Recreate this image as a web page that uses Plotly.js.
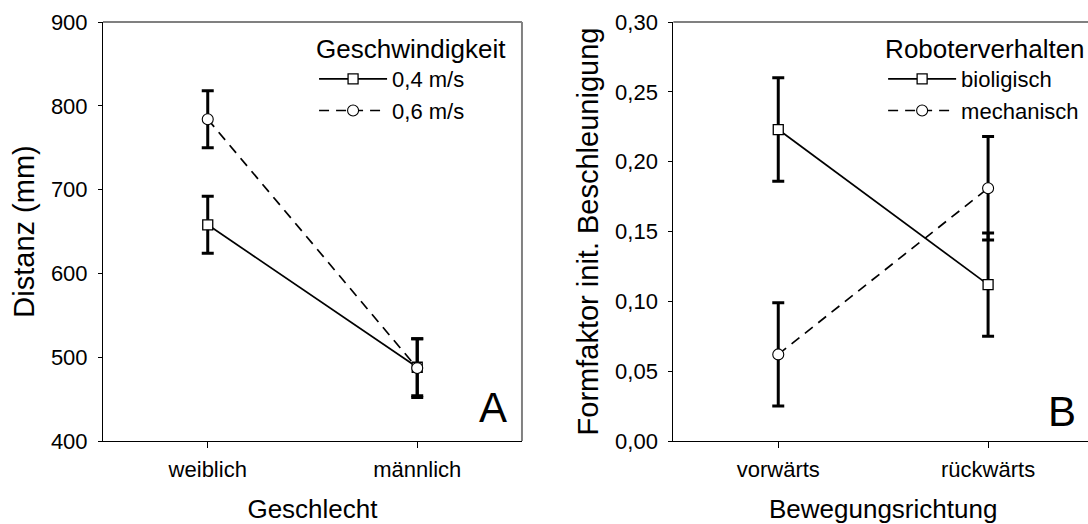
<!DOCTYPE html>
<html>
<head>
<meta charset="utf-8">
<script src="https://cdn.plot.ly/plotly-3.0.1.min.js"></script>
<style>
html, body { margin: 0; padding: 0; overflow: hidden; background: #fff; }
#chart { width: 1100px; height: 524px; }
</style>
</head>
<body>
<div id="chart"></div>
<script>
// Panel A data
const geschlecht = ['weiblich', 'männlich'];
const dist04 = [658, 488];
const dist04Err = [34, 34];
const dist06 = [784, 487];
const dist06Err = [34, 35];

// Panel B data
const richtung = ['vorwärts', 'rückwärts'];
const biologisch = [0.223, 0.112];
const biologischErr = [0.037, 0.037];
const mechanisch = [0.062, 0.181];
const mechanischErr = [0.037, 0.037];

const yTicksA = [400, 500, 600, 700, 800, 900];
const yTicksB = [0, 0.05, 0.10, 0.15, 0.20, 0.25, 0.30];

const FONT = 'Liberation Sans, Arial, sans-serif';
const err = (arr) => ({type: 'data', array: arr, visible: true, color: '#000', thickness: 3, width: 6});
const sq = {symbol: 'square', size: 10, color: '#fff', line: {color: '#000', width: 1.3}};
const ci = {symbol: 'circle', size: 11, color: '#fff', line: {color: '#000', width: 1.1}};

const traces = [
  {x: geschlecht, y: dist04, error_y: err(dist04Err), type: 'scatter', mode: 'lines+markers',
   name: '0,4 m/s', line: {color: '#000', width: 1.7}, marker: sq, xaxis: 'x', yaxis: 'y', legend: 'legend'},
  {x: geschlecht, y: dist06, error_y: err(dist06Err), type: 'scatter', mode: 'lines+markers',
   name: '0,6 m/s', line: {color: '#000', width: 1.7, dash: '10px,7px'}, marker: ci, xaxis: 'x', yaxis: 'y', legend: 'legend'},
  {x: richtung, y: biologisch, error_y: err(biologischErr), type: 'scatter', mode: 'lines+markers',
   name: 'bioligisch', line: {color: '#000', width: 1.7}, marker: sq, xaxis: 'x2', yaxis: 'y2', legend: 'legend2'},
  {x: richtung, y: mechanisch, error_y: err(mechanischErr), type: 'scatter', mode: 'lines+markers',
   name: 'mechanisch', line: {color: '#000', width: 1.7, dash: '10px,7px'}, marker: ci, xaxis: 'x2', yaxis: 'y2', legend: 'legend2'}
];

const xCommon = {
  type: 'category', range: [-0.5, 1.5], showline: true, linecolor: '#000', linewidth: 1,
  ticks: 'outside', ticklen: 6, tickcolor: '#000', showgrid: false, zeroline: false,
  tickfont: {family: FONT, size: 22, color: '#000'}, ticklabelstandoff: 3, fixedrange: true
};
const yCommon = {
  showline: true, linecolor: '#000', linewidth: 1, ticks: 'outside', ticklen: 4, tickcolor: '#000',
  showgrid: false, zeroline: false, tickfont: {family: FONT, size: 22, color: '#000'},
  ticklabelstandoff: 6, fixedrange: true
};

const layout = {
  width: 1100, height: 524,
  margin: {l: 103, r: 7, t: 22, b: 83},
  paper_bgcolor: '#fff', plot_bgcolor: '#fff',
  separators: ',.',
  font: {family: FONT, color: '#000'},
  showlegend: true,
  xaxis: Object.assign({}, xCommon, {domain: [0, 0.4232], anchor: 'y',
    title: {text: 'Geschlecht', font: {family: FONT, size: 26, color: '#000'}, standoff: 18}}),
  yaxis: Object.assign({}, yCommon, {domain: [0, 1], anchor: 'x', range: [400, 900], tickvals: yTicksA,
    title: {text: 'Distanz (mm)', font: {family: FONT, size: 29, color: '#000'}, standoff: 7}}),
  xaxis2: Object.assign({}, xCommon, {domain: [0.5761, 1], anchor: 'y2',
    title: {text: 'Bewegungsrichtung', font: {family: FONT, size: 26, color: '#000'}, standoff: 18}}),
  yaxis2: Object.assign({}, yCommon, {domain: [0, 1], anchor: 'x2', range: [0, 0.30], tickvals: yTicksB,
    tickformat: '.2f',
    title: {text: 'Formfaktor init. Beschleunigung', font: {family: FONT, size: 29, color: '#000'}, standoff: 7}}),
  legend: {x: 0.2132, y: 0.9945, xanchor: 'left', yanchor: 'top', bgcolor: 'rgba(0,0,0,0)', borderwidth: 0,
    title: {text: 'Geschwindigkeit', font: {family: FONT, size: 26, color: '#000'}},
    font: {family: FONT, size: 22, color: '#000'}, itemwidth: 68, tracegroupgap: 0},
  legend2: {x: 0.788, y: 0.9945, xanchor: 'left', yanchor: 'top', bgcolor: 'rgba(0,0,0,0)', borderwidth: 0,
    title: {text: 'Roboterverhalten', font: {family: FONT, size: 26, color: '#000'}},
    font: {family: FONT, size: 22, color: '#000'}, itemwidth: 68, tracegroupgap: 0},
  shapes: [
    {type: 'line', xref: 'x domain', yref: 'y domain', x0: 0, x1: 1, y0: 1, y1: 1, line: {color: '#808080', width: 2}},
    {type: 'line', xref: 'x domain', yref: 'y domain', x0: 1, x1: 1, y0: 0, y1: 1, line: {color: '#808080', width: 2}},
    {type: 'line', xref: 'x2 domain', yref: 'y2 domain', x0: 0, x1: 1, y0: 1, y1: 1, line: {color: '#808080', width: 2}},
    {type: 'line', xref: 'x2 domain', yref: 'y2 domain', x0: 1, x1: 1, y0: 0, y1: 1, line: {color: '#808080', width: 2}}
  ],
  annotations: [
    {text: 'A', xref: 'x domain', yref: 'y domain', x: 0.93, y: 0.08, xanchor: 'center', yanchor: 'middle',
     showarrow: false, font: {family: FONT, size: 42, color: '#000'}},
    {text: 'B', xref: 'x2 domain', yref: 'y2 domain', x: 0.926, y: 0.07, xanchor: 'center', yanchor: 'middle',
     showarrow: false, font: {family: FONT, size: 42, color: '#000'}}
  ]
};

Plotly.newPlot('chart', traces, layout, {displayModeBar: false, staticPlot: true});
</script>
</body>
</html>
